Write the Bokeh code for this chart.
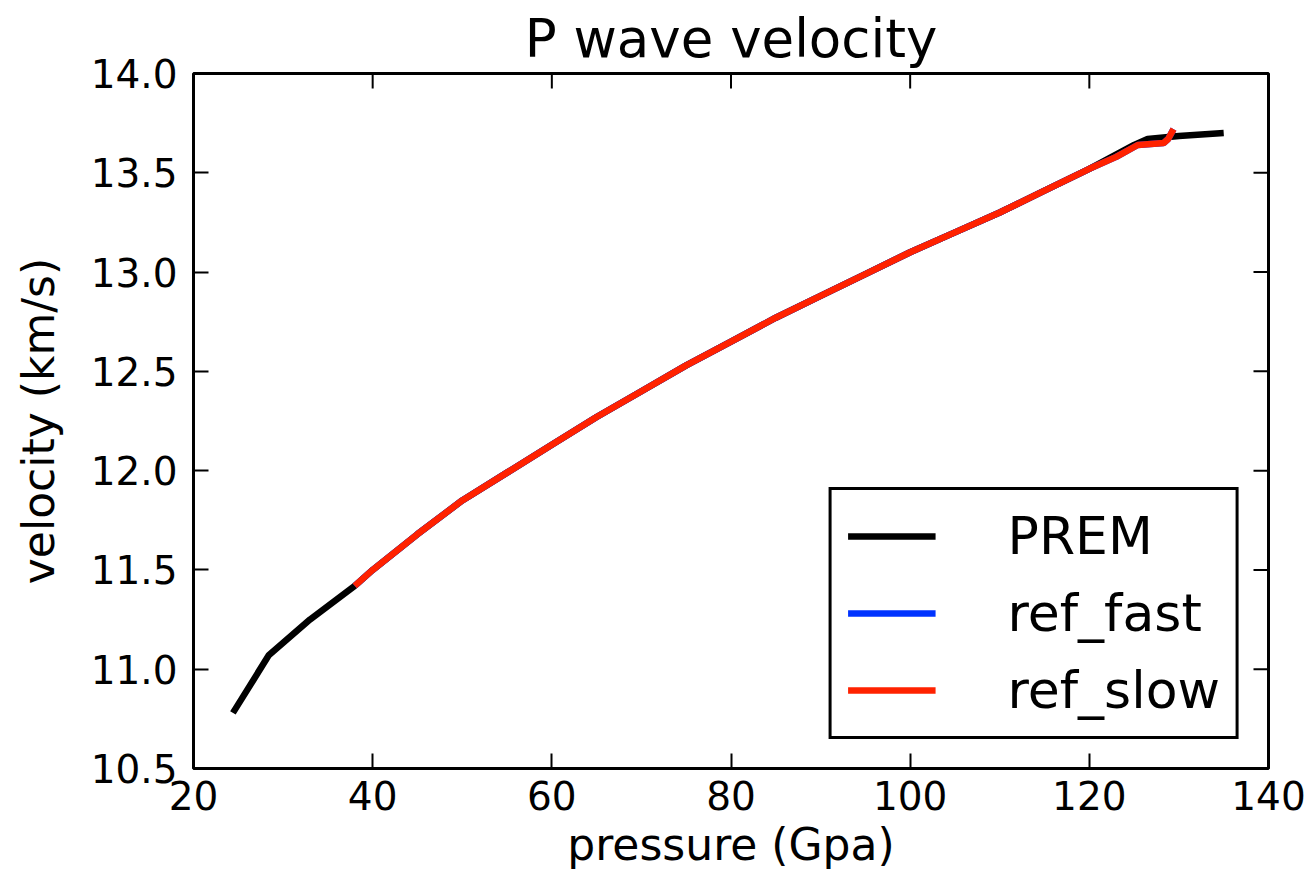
import math
from bokeh.plotting import figure
from bokeh.models import Legend, LegendItem, FixedTicker, PrintfTickFormatter
from bokeh.embed import file_html
from bokeh.resources import INLINE

# ---- data ----
prem_pressure = [24.4, 28.4, 33.0, 38.0, 40, 45, 50, 55, 60, 65, 70, 75, 80, 85, 90,
                 95, 100, 105, 110, 115, 120, 125, 126.5, 130, 135]
prem_velocity = [10.78, 11.07, 11.25, 11.42, 11.50, 11.68, 11.85, 11.99, 12.13, 12.27,
                 12.40, 12.53, 12.65, 12.77, 12.88, 12.99, 13.10, 13.20, 13.30, 13.41,
                 13.52, 13.64, 13.67, 13.685, 13.70]

ref_pressure = [38.0, 40, 45, 50, 55, 60, 65, 70, 75, 80, 85, 90, 95, 100, 105, 110,
                115, 120, 123, 125.4, 128.3, 128.8, 129.4]
fast_velocity = [11.42, 11.50, 11.68, 11.85, 11.99, 12.13, 12.27, 12.40, 12.53, 12.65,
                 12.77, 12.88, 12.99, 13.10, 13.20, 13.30, 13.41, 13.52, 13.58, 13.64,
                 13.65, 13.67, 13.72]
slow_velocity = [11.42, 11.50, 11.68, 11.85, 11.99, 12.13, 12.27, 12.40, 12.53, 12.65,
                 12.77, 12.88, 12.99, 13.10, 13.20, 13.30, 13.41, 13.52, 13.58, 13.64,
                 13.65, 13.67, 13.72]

x_ticks = [20, 40, 60, 80, 100, 120, 140]
y_ticks = [10.5, 11.0, 11.5, 12.0, 12.5, 13.0, 13.5, 14.0]

FONT = "DejaVu Sans"
X_MIN, X_MAX = 20, 140
Y_MIN, Y_MAX = 10.5, 14.0

p = figure(width=1312, height=890, x_range=(X_MIN, X_MAX), y_range=(Y_MIN, Y_MAX),
           output_backend="svg", toolbar_location=None,
           min_border_left=193, min_border_right=44, min_border_top=70,
           min_border_bottom=122, title="P wave velocity")
p.title.text_font = FONT
p.title.text_font_size = "53px"
p.title.text_font_style = "normal"
p.title.align = "center"
p.title.text_color = "black"

p.grid.visible = False
p.outline_line_color = "black"
p.outline_line_width = 3
p.outline_line_alpha = 1.0
p.background_fill_color = "white"
p.border_fill_color = "white"

l_prem = p.line(prem_pressure, prem_velocity, line_color="black", line_width=6.5)
l_fast = p.line(ref_pressure, fast_velocity, line_color="#0033ff", line_width=6.5)
l_slow = p.line(ref_pressure, slow_velocity, line_color="#ff2200", line_width=6.5)

# inward ticks on top and right edges (matplotlib classic style)
p.ray(x=x_ticks, y=[Y_MAX] * len(x_ticks), length=15, length_units="screen",
      angle=-math.pi / 2, line_color="black", line_width=2)
p.ray(x=[X_MAX] * len(y_ticks), y=y_ticks, length=15, length_units="screen",
      angle=math.pi, line_color="black", line_width=2)

for ax in (p.xaxis[0], p.yaxis[0]):
    ax.axis_line_color = None
    ax.major_tick_in = 15
    ax.major_tick_out = 0
    ax.minor_tick_line_color = None
    ax.major_tick_line_width = 2
    ax.major_tick_line_color = "black"
    ax.major_label_text_font = FONT
    ax.major_label_text_color = "black"
    ax.major_label_text_font_size = "39px"
    ax.axis_label_text_font = FONT
    ax.axis_label_text_font_style = "normal"
    ax.axis_label_text_color = "black"
    ax.axis_label_text_font_size = "44px"

p.xaxis.ticker = FixedTicker(ticks=x_ticks)
p.yaxis.ticker = FixedTicker(ticks=y_ticks)
p.xaxis.formatter = PrintfTickFormatter(format="%d")
p.yaxis.formatter = PrintfTickFormatter(format="%.1f")
p.xaxis.axis_label = "pressure (Gpa)"
p.yaxis.axis_label = "velocity (km/s)"
p.xaxis.major_label_standoff = 12
p.xaxis.axis_label_standoff = 6
p.yaxis.major_label_standoff = 16
p.yaxis.axis_label_standoff = 24

legend = Legend(items=[LegendItem(label="PREM", renderers=[l_prem]),
                       LegendItem(label="ref_fast", renderers=[l_fast]),
                       LegendItem(label="ref_slow", renderers=[l_slow])],
                location="bottom_right")
legend.label_text_font = FONT
legend.label_text_font_size = "52px"
legend.label_text_color = "black"
legend.glyph_width = 88
legend.glyph_height = 48
legend.label_height = 48
legend.spacing = 17
legend.padding = 16
legend.label_standoff = 72
legend.margin = 29
legend.border_line_color = "black"
legend.border_line_alpha = 1.0
legend.border_line_width = 3
legend.background_fill_color = "white"
legend.background_fill_alpha = 1.0
p.add_layout(legend, "center")

open("out.html", "w").write(file_html(p, INLINE))
